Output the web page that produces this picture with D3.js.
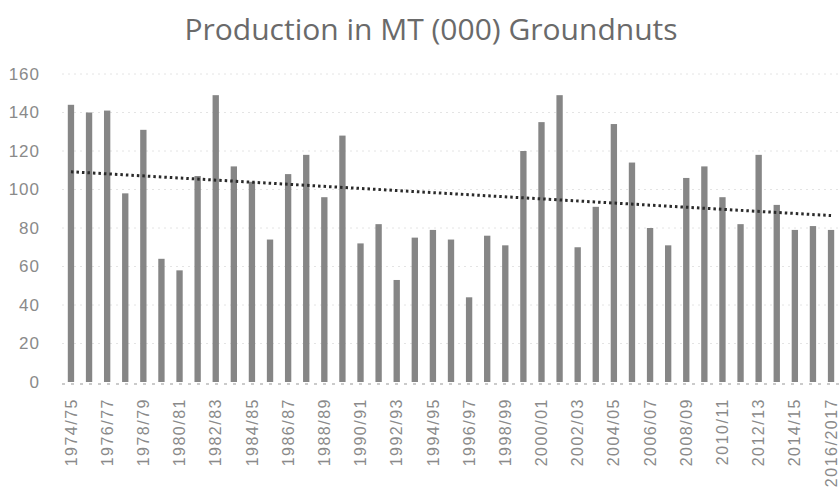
<!DOCTYPE html>
<html>
<head>
<meta charset="utf-8">
<script src="https://cdn.jsdelivr.net/npm/d3@7"></script>
<style>
  html, body { margin: 0; padding: 0; background: #fff; }
  svg { display: block; }
</style>
</head>
<body>
<svg id="chart" width="840" height="495"></svg>
<script>
const seasons = ["1974/75","1975/76","1976/77","1977/78","1978/79","1979/80","1980/81","1981/82","1982/83","1983/84",
  "1984/85","1985/86","1986/87","1987/88","1988/89","1989/90","1990/91","1991/92","1992/93","1993/94",
  "1994/95","1995/96","1996/97","1997/98","1998/99","1999/00","2000/01","2001/02","2002/03","2003/04",
  "2004/05","2005/06","2006/07","2007/08","2008/09","2009/10","2010/11","2011/12","2012/13","2013/14",
  "2014/15","2015/16","2016/2017"];
const production = [144,140,141,98,131,64,58,107,149,112,
  104,74,108,118,96,128,72,82,53,75,
  79,74,44,76,71,120,135,149,70,91,
  134,114,80,71,106,112,96,82,118,92,
  79,81,79];
const yTicks = [0,20,40,60,80,100,120,140,160];
const titleText = "Production in MT (000) Groundnuts";

const svg = d3.select("#chart");
const x = d3.scaleBand().domain(seasons).range([62, 840]).paddingInner(0.65).paddingOuter(0.32);
const y = d3.scaleLinear().domain([0, 160]).range([382, 74]);

// title
svg.append("text")
  .attr("x", 431).attr("y", 40)
  .attr("text-anchor", "middle")
  .attr("font-family", "Open Sans, sans-serif")
  .attr("font-size", 30)
  .attr("fill", "#6a6a6a")
  .text(titleText);

// gridlines
svg.append("g").selectAll("line").data(yTicks.filter(d => d > 0)).join("line")
  .attr("x1", 62).attr("x2", 840)
  .attr("y1", d => y(d)).attr("y2", d => y(d))
  .attr("stroke", "#e4e4e4").attr("stroke-width", 1)
  .attr("stroke-dasharray", "2,4");

// y axis labels
const yAxis = d3.axisLeft(y).tickValues(yTicks).tickSize(0).tickPadding(0);
svg.append("g").attr("transform", "translate(40,0)").call(yAxis)
  .call(g => g.select(".domain").remove())
  .call(g => g.selectAll("text")
    .attr("font-family", "Liberation Sans, sans-serif")
    .attr("font-size", 17).attr("letter-spacing", 1).attr("fill", "#8a8a8a"));

// baseline
svg.append("line").attr("x1", 62).attr("x2", 840).attr("y1", y(0) + 2).attr("y2", y(0) + 2)
  .attr("stroke", "#bbb").attr("stroke-width", 1.5).attr("stroke-dasharray", "3,6");

// bars
svg.append("g").selectAll("rect").data(production).join("rect")
  .attr("x", (d, i) => x(seasons[i]))
  .attr("width", x.bandwidth())
  .attr("y", d => y(d))
  .attr("height", d => y(0) - y(d))
  .attr("fill", "#868686");

// x labels (every other)
const xAxis = d3.axisBottom(x).tickValues(seasons.filter((d, i) => i % 2 === 0)).tickSize(0).tickPadding(0);
svg.append("g").attr("transform", `translate(0,${y(0) + 16})`).call(xAxis)
  .call(g => g.select(".domain").remove())
  .call(g => g.selectAll("text")
    .attr("font-family", "Liberation Sans, sans-serif")
    .attr("font-size", 16).attr("letter-spacing", 1.5).attr("fill", "#8a8a8a")
    .attr("text-anchor", "end")
    .attr("dy", "0.35em")
    .attr("transform", "rotate(-90)")
    .attr("x", 0).attr("y", 0));

// linear trendline
const n = production.length;
const xs = d3.range(n);
const mx = d3.mean(xs), my = d3.mean(production);
const slope = d3.sum(xs, i => (i - mx) * (production[i] - my)) / d3.sum(xs, i => (i - mx) ** 2);
const intercept = my - slope * mx;
const cx = i => x(seasons[i]) + x.bandwidth() / 2;
svg.append("line")
  .attr("x1", cx(0)).attr("x2", cx(n - 1))
  .attr("y1", y(intercept)).attr("y2", y(intercept + slope * (n - 1)))
  .attr("stroke", "#2a2a2a").attr("stroke-width", 3)
  .attr("stroke-dasharray", "2.5,3");
</script>
</body>
</html>
